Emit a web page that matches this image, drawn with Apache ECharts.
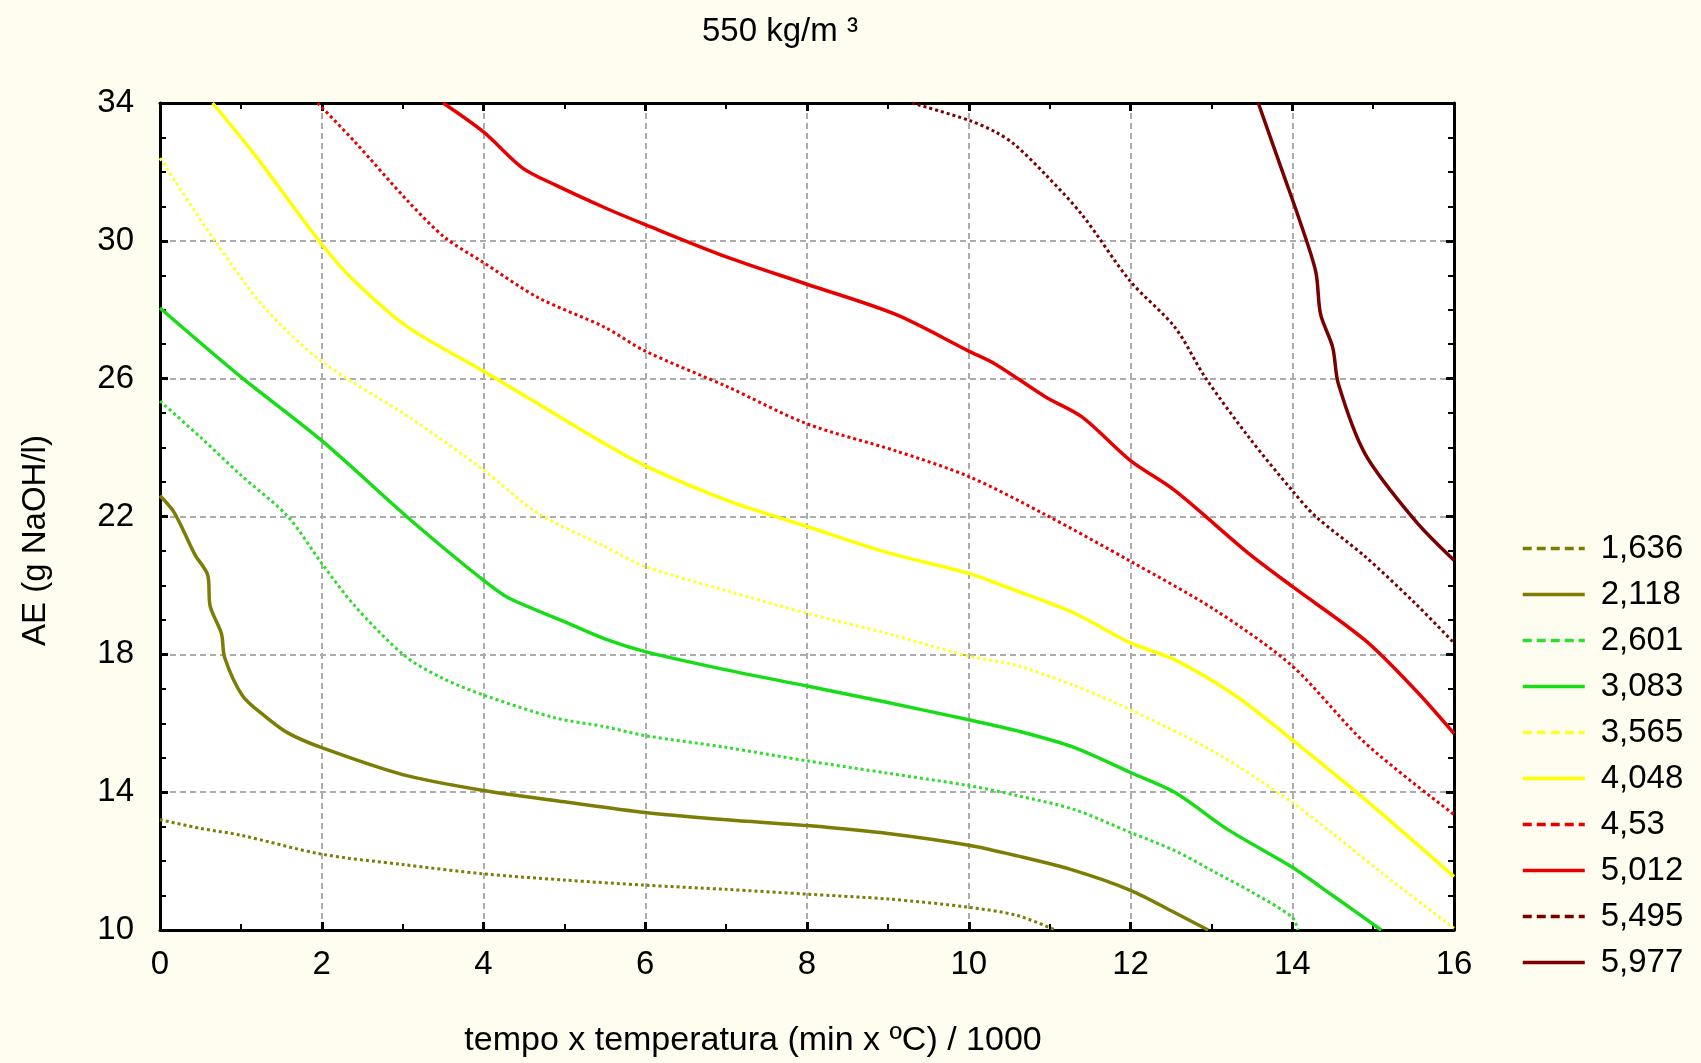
<!DOCTYPE html>
<html>
<head>
<meta charset="utf-8">
<script src="https://cdn.jsdelivr.net/npm/echarts@6/dist/echarts.min.js"></script>
<style>
    html, body { margin: 0; padding: 0; background: #fffcf0; }
    #main { width: 1701px; height: 1063px; }
</style>
</head>
<body>
<div id="main"></div>
<script>
    // series names (legend labels)
    let seriesNames = ['1,636', '2,118', '2,601', '3,083', '3,565', '4,048', '4,53', '5,012', '5,495', '5,977'];

    // curves, [x, AE]
    let s1636 = [[0, 13.2], [0.5, 12.95], [1, 12.75], [2, 12.2], [3, 11.9], [4, 11.63], [5, 11.45], [6, 11.3],
        [7, 11.18], [8, 11.04], [9, 10.9], [10, 10.66], [10.6, 10.42], [11.07, 10.0]];
    let s2118 = [[0, 22.6], [0.18, 22.1], [0.43, 20.9], [0.59, 20.3], [0.62, 19.4], [0.76, 18.6], [0.8, 17.9],
        [1.02, 16.8], [1.3, 16.2], [1.58, 15.72], [2, 15.29], [3, 14.51], [4, 14.05], [5, 13.72], [6, 13.41],
        [7, 13.2], [8, 13.03], [9, 12.8], [10, 12.46], [10.6, 12.15], [11.3, 11.73], [12, 11.15], [12.55, 10.5],
        [12.96, 10.0]];
    let s2601 = [[0, 25.35], [0.5, 24.3], [1, 23.2], [1.58, 22.0], [2, 20.64], [2.41, 19.4], [3.03, 17.95],
        [3.5, 17.3], [4, 16.82], [4.88, 16.16], [5.5, 15.9], [6, 15.64], [7, 15.3], [8, 14.91], [9, 14.55],
        [10, 14.19], [10.6, 13.9], [11.3, 13.5], [12, 12.83], [12.55, 12.3], [13.05, 11.67], [13.5, 11.1],
        [14, 10.37], [14.07, 10.0]];
    let s3083 = [[0, 28.05], [1, 26.05], [2, 24.2], [3, 22.1], [3.5, 21.1], [4, 20.15], [4.3, 19.65], [5, 18.95],
        [5.5, 18.45], [6, 18.08], [7, 17.55], [8, 17.08], [9, 16.6], [10, 16.1], [10.6, 15.78], [11.3, 15.3],
        [12, 14.57], [12.55, 13.99], [13.2, 12.92], [14, 11.82], [14.5, 11.0], [15.1, 10.0]];
    let s3565 = [[0, 32.4], [0.68, 30.0], [1.29, 28.07], [2, 26.5], [3.07, 24.9], [4, 23.35], [4.67, 22.1],
        [5.5, 21.13], [6, 20.55], [7, 19.85], [8, 19.19], [9, 18.6], [10, 17.95], [10.57, 17.69], [11.3, 17.1],
        [12, 16.39], [13.05, 15.15], [14, 13.7], [14.5, 12.8], [15.1, 11.67], [16, 10.05]];
    let s4048 = [[0.65, 34], [1.17, 32.5], [2, 29.9], [2.41, 28.82], [3.07, 27.49], [4, 26.22], [4.88, 24.98],
        [5.5, 24.11], [6, 23.47], [7.02, 22.46], [8, 21.71], [9, 20.95], [10, 20.35], [10.57, 19.86], [11.3, 19.2],
        [12, 18.33], [12.55, 17.84], [13.3, 16.8], [14, 15.52], [14.9, 13.79], [16, 11.55]];
    let s4530 = [[1.95, 34], [2.41, 32.87], [3.07, 31.14], [3.52, 30.1], [4, 29.37], [4.67, 28.36], [5.5, 27.49],
        [6, 26.8], [7.02, 25.76], [8, 24.69], [9.09, 23.91], [10, 23.16], [10.95, 22.05], [12, 20.7],
        [13.05, 19.28], [14, 17.66], [14.9, 15.43], [16, 13.35]];
    let s5012 = [[3.5, 34], [4, 33.16], [4.48, 32.12], [4.88, 31.63], [5.5, 30.96], [6, 30.47], [7.02, 29.52],
        [8, 28.74], [9.09, 27.87], [10, 26.8], [10.33, 26.42], [10.95, 25.47], [11.4, 24.89], [12, 23.62],
        [12.55, 22.75], [13.46, 20.93], [14, 19.97], [14.9, 18.41], [15.52, 16.97], [16, 15.7]];
    let s5495 = [[9.3, 34], [10, 33.5], [10.33, 33.16], [10.57, 32.79], [10.95, 31.92], [11.4, 30.76], [12, 28.82],
        [12.55, 27.49], [12.92, 26.05], [13.46, 24.31], [14, 22.75], [14.29, 22.0], [14.9, 20.84], [15.52, 19.48],
        [16, 18.33]];
    let s5977 = [[13.58, 34], [13.88, 32.0], [14.08, 30.67], [14.29, 29.11], [14.35, 27.87], [14.5, 26.91],
        [14.57, 25.85], [14.9, 23.82], [15.52, 21.88], [16, 20.73]];

    let curves = [s1636, s2118, s2601, s3083, s3565, s4048, s4530, s5012, s5495, s5977];
    let colors = ['#7d7d05', '#7d7d05', '#2fdc2f', '#18dc18', '#ffff30', '#ffff00', '#e80000', '#e80000', '#7a0000', '#7a0000'];
    let dotted = [true, false, true, false, true, false, true, false, true, false];

    let font = 'Liberation Sans, Arial, sans-serif';

    let myChart = echarts.init(document.getElementById('main'));

    let seriesArray = [];
    let legendData = [];

    for (let i = 0; i < curves.length; i++) {
        seriesArray.push({
            name: seriesNames[i],
            type: 'line',
            data: curves[i],
            symbol: 'none',
            smooth: 0.3,
            color: colors[i],
            lineStyle: {
                color: colors[i],
                width: dotted[i] ? 3 : 3.5,
                type: dotted[i] ? [3, 3] : 'solid'
            }
        });
        // legend: only the line, dashed for the dotted curves
        legendData.push({
            name: seriesNames[i],
            itemStyle: { color: colors[i], opacity: 0 },
            lineStyle: { color: colors[i], width: 3.5, type: dotted[i] ? [9, 5] : 'solid' }
        });
    }

    let axisCommon = {
        type: 'value',
        axisLine: { show: true, onZero: false, lineStyle: { color: '#000', width: 3 } },
        axisTick: { show: true, inside: true, length: 8, lineStyle: { color: '#000', width: 3 } },
        minorTick: { show: true, length: 6, lineStyle: { color: '#000', width: 2 } }
    };

    let option = {
        backgroundColor: '#fffcf0',
        animation: false,
        title: {
            text: '550 kg/m ³',
            left: 697,
            top: 10,
            textStyle: { fontFamily: font, fontSize: 33, fontWeight: 'normal', color: '#000' }
        },
        legend: {
            orient: 'vertical',
            left: 1516,
            top: 527,
            itemWidth: 62,
            itemHeight: 20,
            itemGap: 13,
            data: legendData,
            textStyle: { fontFamily: font, fontSize: 33, lineHeight: 33, color: '#000', padding: [0, 0, 0, 11] }
        },
        grid: { left: 160, right: 247, top: 103, bottom: 130, backgroundColor: '#fff', show: true, borderWidth: 0 },
        xAxis: [
            Object.assign({}, axisCommon, {
                min: 0, max: 16, interval: 2,
                position: 'bottom',
                minorTick: Object.assign({}, axisCommon.minorTick, { splitNumber: 2 }),
                axisLabel: { fontFamily: font, fontSize: 33, color: '#000', margin: 18 },
                splitLine: { show: true, lineStyle: { color: '#acacac', width: 2, type: [6, 4] } },
                name: 'tempo x temperatura (min x ºC) / 1000',
                nameLocation: 'middle',
                nameGap: 94,
                nameTextStyle: { fontFamily: font, fontSize: 34, color: '#000', padding: [0, 108, 0, 0] }
            }),
            Object.assign({}, axisCommon, {
                min: 0, max: 16, interval: 2,
                position: 'top',
                minorTick: Object.assign({}, axisCommon.minorTick, { splitNumber: 2 }),
                axisLabel: { show: false },
                splitLine: { show: false }
            })
        ],
        yAxis: [
            Object.assign({}, axisCommon, {
                min: 10, max: 34, interval: 4,
                position: 'left',
                minorTick: Object.assign({}, axisCommon.minorTick, { splitNumber: 4 }),
                axisLabel: { fontFamily: font, fontSize: 33, color: '#000', margin: 26 },
                splitLine: { show: true, lineStyle: { color: '#acacac', width: 2, type: [6, 4] } },
                name: 'AE (g NaOH/l)',
                nameLocation: 'middle',
                nameGap: 108,
                nameTextStyle: { fontFamily: font, fontSize: 33, color: '#000', padding: [0, 48, 0, 0] }
            }),
            Object.assign({}, axisCommon, {
                min: 10, max: 34, interval: 4,
                position: 'right',
                minorTick: Object.assign({}, axisCommon.minorTick, { splitNumber: 4 }),
                axisLabel: { show: false },
                splitLine: { show: false }
            })
        ],
        series: seriesArray
    };

    myChart.setOption(option);
</script>
</body>
</html>
